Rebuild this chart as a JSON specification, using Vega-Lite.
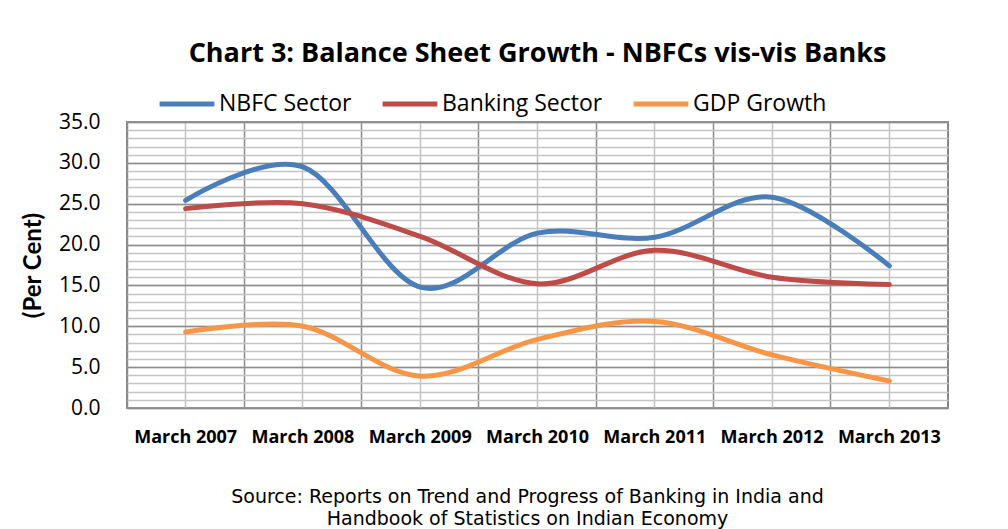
{
  "$schema": "https://vega.github.io/schema/vega-lite/v6.json",
  "width": 821,
  "height": 286,
  "autosize": {"type": "none"},
  "padding": {"left": 127, "top": 122, "right": 60, "bottom": 121},
  "background": "white",
  "title": {
    "text": "Chart 3: Balance Sheet Growth - NBFCs vis-vis Banks",
    "font": "Open Sans",
    "fontSize": 27,
    "fontWeight": "bold",
    "color": "#000000",
    "anchor": "middle",
    "frame": "group",
    "offset": 6
  },
  "data": {
    "values": [
      {"period": "March 2007", "series": "NBFC Sector", "value": 25.4},
      {"period": "March 2008", "series": "NBFC Sector", "value": 29.5},
      {"period": "March 2009", "series": "NBFC Sector", "value": 14.8},
      {"period": "March 2010", "series": "NBFC Sector", "value": 21.4},
      {"period": "March 2011", "series": "NBFC Sector", "value": 20.9},
      {"period": "March 2012", "series": "NBFC Sector", "value": 25.8},
      {"period": "March 2013", "series": "NBFC Sector", "value": 17.4},
      {"period": "March 2007", "series": "Banking Sector", "value": 24.4},
      {"period": "March 2008", "series": "Banking Sector", "value": 25.0},
      {"period": "March 2009", "series": "Banking Sector", "value": 21.0},
      {"period": "March 2010", "series": "Banking Sector", "value": 15.2},
      {"period": "March 2011", "series": "Banking Sector", "value": 19.3},
      {"period": "March 2012", "series": "Banking Sector", "value": 16.0},
      {"period": "March 2013", "series": "Banking Sector", "value": 15.1},
      {"period": "March 2007", "series": "GDP Growth", "value": 9.3},
      {"period": "March 2008", "series": "GDP Growth", "value": 10.0},
      {"period": "March 2009", "series": "GDP Growth", "value": 3.9},
      {"period": "March 2010", "series": "GDP Growth", "value": 8.4},
      {"period": "March 2011", "series": "GDP Growth", "value": 10.6},
      {"period": "March 2012", "series": "GDP Growth", "value": 6.5},
      {"period": "March 2013", "series": "GDP Growth", "value": 3.3}
    ]
  },
  "layer": [
    {
      "mark": {"type": "line", "strokeOpacity": 0, "interpolate": "cardinal", "tension": 0, "strokeWidth": 5},
      "encoding": {
        "x": {
          "field": "period", "type": "nominal", "sort": null,
          "scale": {"type": "band", "paddingInner": 0, "paddingOuter": 0},
          "axis": {
            "orient": "bottom", "grid": true, "gridColor": "#c4c4c4", "gridWidth": 1.5,
            "bandPosition": 0.5, "labels": false, "ticks": false, "domain": false, "title": null
          }
        },
        "y": {
          "field": "value", "type": "quantitative",
          "scale": {"domain": [0, 35], "nice": false, "zero": true},
          "axis": {
            "orient": "left", "grid": true, "gridColor": "#c4c4c4", "gridWidth": 1.5,
            "values": [0,1,2,3,4,5,6,7,8,9,10,11,12,13,14,15,16,17,18,19,20,21,22,23,24,25,26,27,28,29,30,31,32,33,34,35],
            "labels": false, "ticks": false, "domain": false, "title": null
          }
        },
        "color": {"field": "series", "type": "nominal", "sort": ["NBFC Sector", "Banking Sector", "GDP Growth"],
          "scale": {"domain": ["NBFC Sector", "Banking Sector", "GDP Growth"], "range": ["#4a7ebb", "#be4b48", "#f79646"]},
          "legend": {
            "title": null, "orient": "none", "legendX": 30, "legendY": -48, "direction": "horizontal",
            "symbolType": "stroke", "symbolSize": 3000, "symbolStrokeWidth": 5, "symbolOpacity": 1,
            "labelFont": "Open Sans", "labelFontSize": 23, "labelColor": "#000000", "labelOffset": 2,
            "labelLimit": 300, "columnPadding": 20
          }
        }
      }
    },
    {
      "mark": {"type": "line", "interpolate": "cardinal", "tension": 0, "strokeWidth": 5, "strokeCap": "round"},
      "encoding": {
        "x": {
          "field": "period", "type": "nominal", "sort": null,
          "axis": {
            "orient": "bottom", "grid": true, "gridColor": "#8c8c8c", "gridWidth": 1.5,
            "bandPosition": 0, "labels": false, "ticks": false, "domain": false,
            "title": null
          }
        },
        "y": {
          "field": "value", "type": "quantitative",
          "axis": {
            "orient": "left", "grid": true, "gridColor": "#8c8c8c", "gridWidth": 1.5,
            "values": [0, 5, 10, 15, 20, 25, 30, 35], "format": ".1f",
            "labelFont": "Open Sans", "labelFontSize": 21, "labelColor": "#000000", "labelPadding": 27,
            "ticks": false, "domain": false,
            "title": "(Per Cent)", "titleFont": "Lato", "titleFontSize": 24, "titleFontWeight": "bold",
            "titleColor": "#000000", "titleX": -94, "titleY": 143, "titleAngle": -90,
            "titleAlign": "center", "titleBaseline": "middle"
          }
        },
        "color": {"field": "series", "type": "nominal"}
      }
    },
    {
      "mark": {"type": "line", "strokeOpacity": 0},
      "encoding": {
        "x": {
          "field": "period", "type": "nominal", "sort": null,
          "axis": {
            "orient": "bottom", "grid": false, "bandPosition": 0.5,
            "labelFont": "Open Sans", "labelFontSize": 18, "labelFontWeight": "bold", "labelColor": "#000000",
            "labelPadding": 20, "labelAngle": 0, "ticks": false, "domain": false,
            "title": ["Source: Reports on Trend and Progress of Banking in India and", "Handbook of Statistics on Indian Economy"],
            "titleFont": "DejaVu Sans", "titleFontSize": 19, "titleFontWeight": "normal", "titleColor": "#000000",
            "titleX": 400, "titleY": 94, "titleAlign": "center", "titleBaseline": "alphabetic", "titleLineHeight": 22
          }
        },
        "y": {"field": "value", "type": "quantitative", "axis": null},
        "color": {"field": "series", "type": "nominal"}
      }
    }
  ],
  "resolve": {"axis": {"x": "independent", "y": "independent"}},
  "config": {
    "view": {"stroke": "#868686", "strokeWidth": 2}
  }
}
